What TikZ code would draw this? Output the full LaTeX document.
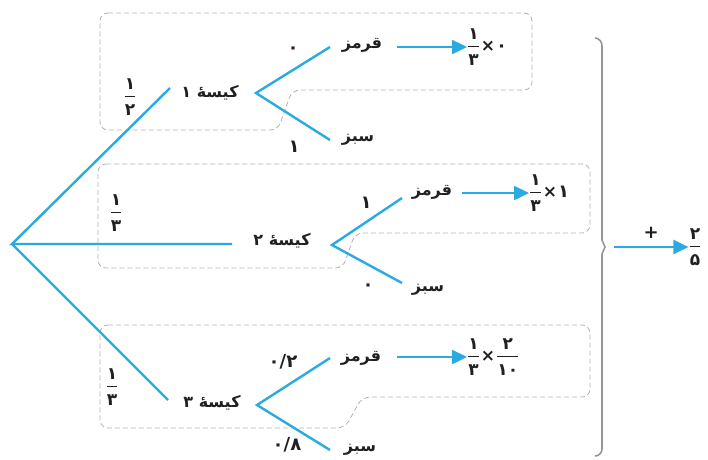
\documentclass[tikz,border=0pt]{standalone}
\usepackage{amsmath}
\usepackage{fontspec}
\usetikzlibrary{arrows.meta}
\TeXXeTstate=1
\newfontfamily\af[Script=Arabic]{DejaVu Sans Bold}
\definecolor{bl}{RGB}{41,171,226}
\definecolor{dg}{RGB}{178,178,178}
\definecolor{bg}{RGB}{150,150,150}
\definecolor{tx}{RGB}{35,31,32}
\newcommand{\pfr}[2]{$\genfrac{}{}{1pt}{0}{\hbox{\af\fontsize{17}{17}\selectfont\rule[-3pt]{0pt}{3pt}#1}}{\hbox{\af\fontsize{17}{17}\selectfont\rule{0pt}{15pt}#2}}$}
\newcommand{\tms}{\hbox{\af\fontsize{17}{17}\selectfont\kern1pt×\kern1pt}}
\newcommand{\artxt}[1]{\beginR #1\endR}
\begin{document}
\begin{tikzpicture}[x=1pt,y=-1pt,
  lab/.style={inner sep=0pt, text=tx, font=\af\fontsize{16}{18}\selectfont},
  dig/.style={inner sep=0pt, text=tx, font=\af\fontsize{18}{18}\selectfont},
  branch/.style={draw=bl, line width=2.4pt},
  arr/.style={draw=bl, line width=2.4pt, -{Triangle[length=15pt,width=14pt]}},
  dbox/.style={draw=dg, dashed, dash pattern=on 5pt off 3pt, line width=0.8pt, rounded corners=8pt},
  brace/.style={draw=bg, line width=1.6pt}]
\useasboundingbox (0,0) rectangle (708,459);
% dashed boxes
\draw[dbox] (100,13) -- (532,13) -- (532,90) -- (292,90) -- (278,130) -- (100,130) -- cycle;
\draw[dbox] (98,164) -- (590,164) -- (590,233) -- (355,233) -- (343,268) -- (98,268) -- cycle;
\draw[dbox] (100,325) -- (590,325) -- (590,397) -- (362,397) -- (345,428) -- (100,428) -- cycle;
% tree coordinates
\coordinate (root) at (12,244);
\coordinate (b1e) at (170,88);
\coordinate (b2e) at (232,244);
\coordinate (b3e) at (168,400);
\coordinate (f1) at (256,93);
\coordinate (u1) at (330,47);
\coordinate (l1) at (330,140);
\coordinate (f2) at (332,245);
\coordinate (u2) at (402,198);
\coordinate (l2) at (402,283);
\coordinate (f3) at (257,405);
\coordinate (u3) at (330,358);
\coordinate (l3) at (330,450);
\draw[branch] (b1e) -- (root) -- (b2e);
\draw[branch] (root) -- (b3e);
\draw[branch] (u1) -- (f1) -- (l1);
\draw[branch] (u2) -- (f2) -- (l2);
\draw[branch] (u3) -- (f3) -- (l3);
% probabilities of bags
\node[lab] (p1) at (130,97) {\pfr{۱}{۲}};
\node[lab] (p2) at (116,213) {\pfr{۱}{۳}};
\node[lab] (p3) at (112,387) {\pfr{۱}{۳}};
% bag labels
\node[lab] (bag1) at (210,93) {\artxt{کیسهٔ ۱}};
\node[lab] (bag2) at (282,241) {\artxt{کیسهٔ ۲}};
\node[lab] (bag3) at (212,403) {\artxt{کیسهٔ ۳}};
% branch probabilities
\node[dig] (z1) at (293,50) {۰};
\node[dig] (o1) at (294,147) {۱};
\node[dig] (o2) at (366,203) {۱};
\node[dig] (z2) at (368,287) {۰};
\node[dig] (d2) at (283,362) {۰/۲};
\node[dig] (d8) at (287,445) {۰/۸};
% colours
\node[lab] (q1) at (362,45) {\artxt{قرمز}};
\node[lab] (s1) at (358,140) {\artxt{سبز}};
\node[lab] (q2) at (432,192) {\artxt{قرمز}};
\node[lab] (s2) at (428,290) {\artxt{سبز}};
\node[lab] (q3) at (361,358) {\artxt{قرمز}};
\node[lab] (s3) at (360,450) {\artxt{سبز}};
% results
\node[lab, anchor=west] (r1) at (467,47) {\pfr{۱}{۳}\tms\hbox{\af\fontsize{18}{18}\selectfont ۰}};
\node[lab, anchor=west] (r2) at (529,193) {\pfr{۱}{۳}\tms\hbox{\af\fontsize{18}{18}\selectfont ۱}};
\node[lab, anchor=west] (r3) at (467,357) {\pfr{۱}{۳}\tms\pfr{۲}{۱۰}};
\coordinate (a1s) at (397,47);
\coordinate (a2s) at (462,193);
\coordinate (a3s) at (397,357);
\draw[arr] (a1s) -- (r1.west);
\draw[arr] (a2s) -- (r2.west);
\draw[arr] (a3s) -- (r3.west);
% brace
\draw[brace] (595,38) to[out=0,in=90] (602,46) -- (602,240) -- (605,247) -- (602,254) -- (602,449) to[out=-90,in=0] (595,456);
\coordinate (bt) at (614,247);
\node[lab] (res) at (695,247) {\pfr{۲}{۵}};
\draw[arr] (bt) -- (res.west) node[midway, above=4pt, text=tx, font=\af\fontsize{18}{18}\selectfont] (plus) {+};
\end{tikzpicture}
\end{document}
